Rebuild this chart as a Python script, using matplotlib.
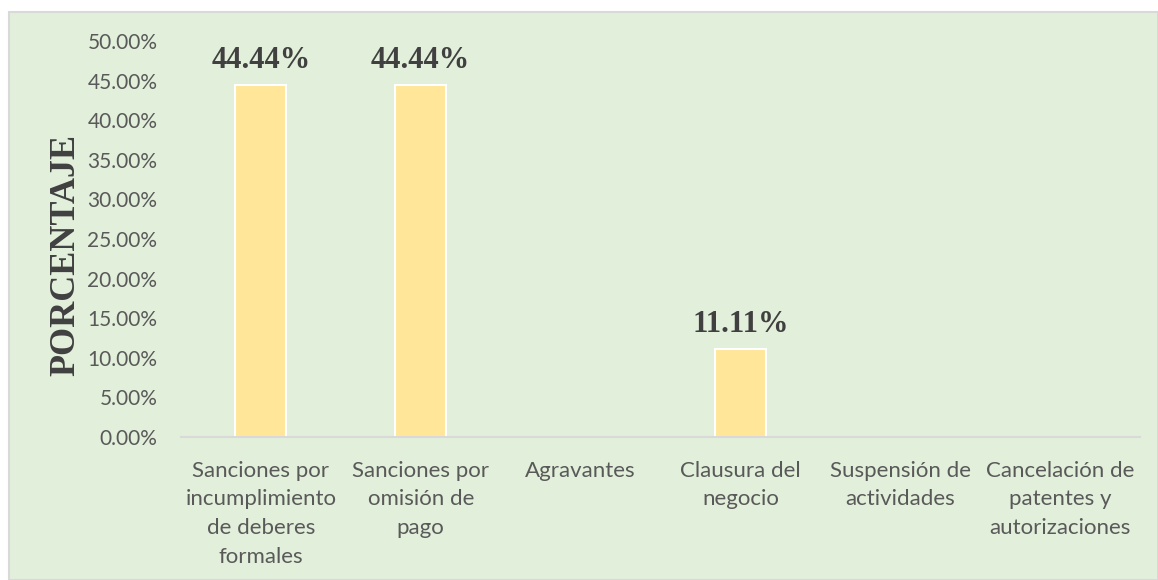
import matplotlib.pyplot as plt
from matplotlib.patches import Rectangle
from matplotlib.ticker import PercentFormatter

# === Data ===
categorias = [
    "Sanciones por\nincumplimiento\nde deberes\nformales",
    "Sanciones por\nomisión de\npago",
    "Agravantes",
    "Clausura del\nnegocio",
    "Suspensión de\nactividades",
    "Cancelación de\npatentes y\nautorizaciones",
]
porcentajes = [44.44, 44.44, 0, 11.11, 0, 0]
etiquetas = ["44.44%", "44.44%", None, "11.11%", None, None]

# === Figure ===
fig = plt.figure(figsize=(11.58, 5.8), dpi=100)
fig.patch.set_facecolor("white")
fig.patches.append(Rectangle((9 / 1158, 0), 1 - 9 / 1158, 1 - 12 / 580,
                             transform=fig.transFigure, facecolor="#E2EFDA",
                             edgecolor="#D9D9D9", linewidth=1.5, zorder=-10))

ax = fig.add_axes([181 / 1158, 1 - 437 / 580, (1140 - 181) / 1158, (437 - 41) / 580])
ax.set_facecolor("none")

x = range(len(categorias))
ax.bar(x, [p / 100 for p in porcentajes], width=0.32, color="#FFE699",
       edgecolor="white", linewidth=1.5, zorder=2)

for i, (p, lab) in enumerate(zip(porcentajes, etiquetas)):
    if lab:
        ax.annotate(lab, (i, p / 100), xytext=(0, 7), textcoords="offset points",
                    ha="center", va="bottom", fontsize=22, fontweight="bold",
                    family="Liberation Serif", color="#404040")

ax.set_xlim(-0.5, len(categorias) - 0.5)
ax.set_ylim(0, 0.5)
ax.set_yticks([i * 0.05 for i in range(11)])
ax.yaxis.set_major_formatter(PercentFormatter(1.0, decimals=2))

for s in ["top", "right", "left"]:
    ax.spines[s].set_visible(False)
ax.spines["bottom"].set_color("#D9D9D9")
ax.spines["bottom"].set_linewidth(1.5)

ax.tick_params(axis="both", length=0, colors="#595959")
ax.tick_params(axis="y", pad=17, labelsize=15)
ax.tick_params(axis="x", pad=17, labelsize=16)
ax.set_xticks(list(x))
ax.set_xticklabels(categorias, family="Lato", linespacing=1.55)
for t in ax.get_yticklabels():
    t.set_family("Lato")

ax.set_ylabel("PORCENTAJE", fontsize=26, fontweight="bold",
              family="Liberation Serif", color="#404040")
ax.yaxis.set_label_coords(-0.103, 0.46)

fig.savefig("out.png", dpi=100)
